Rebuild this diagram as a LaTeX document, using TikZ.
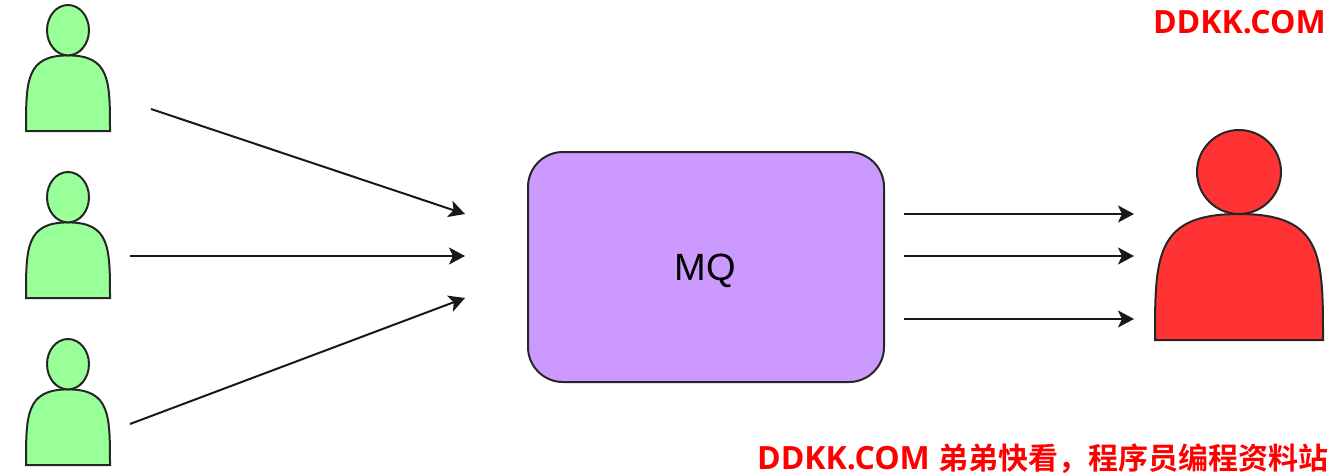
\documentclass[tikz,border=0pt]{standalone}
\usepackage{fontspec}
\setmainfont{Liberation Sans}
\newfontfamily\wmfont[BoldFont=Noto Sans CJK SC Bold]{Noto Sans CJK SC}
\newfontfamily\wmlatin{Open Sans}[BoldFont=* Bold]
\usetikzlibrary{arrows.meta,shapes.geometric}
\definecolor{peoplegreen}{HTML}{99FF99}
\definecolor{peoplered}{HTML}{FF3333}
\definecolor{mqviolet}{HTML}{CC99FF}
\definecolor{wmred}{HTML}{FF0000}
\tikzset{
  outline/.style={draw=black!85,line width=2pt},
  flow/.style={draw=black!90,line width=2pt,-{Stealth[length=16pt,width=17pt,inset=4pt]}},
  mqbox/.style={outline,fill=mqviolet,rounded corners=35pt,minimum width=356pt,minimum height=230pt,inner sep=0pt},
  watermark/.style={text=wmred,inner sep=0pt,font=\fontsize{32}{36}\selectfont\bfseries}
}
% #1 left, #2 top, #3 width, #4 height, #5 colour
\newcommand{\personfig}[5]{%
  \fill[#5,draw=black!85,line width=2pt]
    (#1,#2+#4) .. controls (#1,#2+0.6*#4) and (#1,#2+0.4*#4) .. (#1+0.5*#3,#2+0.4*#4)
    .. controls (#1+#3,#2+0.4*#4) and (#1+#3,#2+0.6*#4) .. (#1+#3,#2+#4) -- cycle;
  \fill[#5,draw=black!85,line width=2pt]
    (#1+0.5*#3,#2+0.2*#4) ellipse [x radius=0.25*#3,y radius=0.2*#4];
}
\begin{document}
\begin{tikzpicture}[x=1pt,y=-1pt]
\useasboundingbox (0,0) rectangle (1331,474);
\personfig{26}{5}{84}{126}{peoplegreen}
\personfig{26}{172}{84}{126}{peoplegreen}
\personfig{26}{339}{84}{126}{peoplegreen}
\personfig{1155}{130}{168}{210}{peoplered}
\node[mqbox] (mq) at (706,267) {};
\node[inner sep=0pt,anchor=base,font=\fontsize{38}{42}\selectfont] (mqlabel) at (705.5,280) {MQ};
\coordinate (p1) at (151,109);
\coordinate (p2) at (130,256);
\coordinate (p3) at (130,424);
\coordinate (in1) at (465,214);
\coordinate (in2) at (465,256);
\coordinate (in3) at (465,298);
\coordinate (out1) at (904,214);
\coordinate (out2) at (904,256);
\coordinate (out3) at (904,319);
\coordinate (c1) at (1134,214);
\coordinate (c2) at (1134,256);
\coordinate (c3) at (1134,319);
\draw[flow] (p1) -- (in1);
\draw[flow] (p2) -- (in2);
\draw[flow] (p3) -- (in3);
\draw[flow] (out1) -- (c1);
\draw[flow] (out2) -- (c2);
\draw[flow] (out3) -- (c3);
\node[watermark,anchor=base east] (wm1) at (1326,33) {\wmlatin DDKK.COM};
\node[watermark,anchor=base east] (wm2) at (1329,469.5) {{\wmlatin DDKK.COM} {\fontsize{30}{34}\selectfont\wmfont\smash{弟弟快看，程序员编程资料站}}};
\end{tikzpicture}
\end{document}
